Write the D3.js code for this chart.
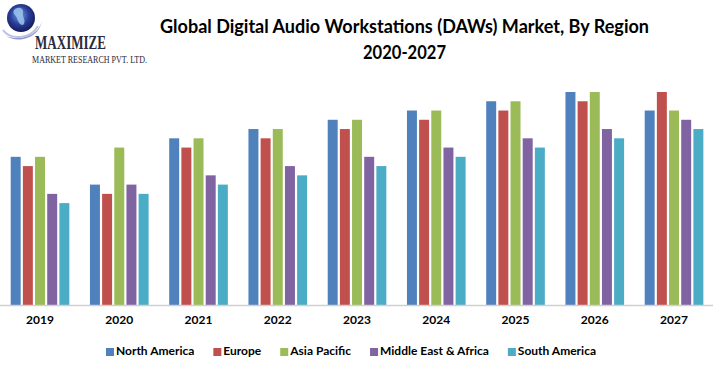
<!DOCTYPE html>
<html><head><meta charset="utf-8">
<script src="https://cdn.jsdelivr.net/npm/d3@7"></script>
<style>
html,body{margin:0;padding:0;background:#fff;}
svg{display:block;}
</style></head>
<body>
<script>
const years = ["2019","2020","2021","2022","2023","2024","2025","2026","2027"];
const seriesNames = ["North America","Europe","Asia Pacific","Middle East & Africa","South America"];
const northAmerica = [16,13,18,19,20,21,22,23,21];
const europe       = [15,12,17,18,19,20,21,22,23];
const asiaPacific  = [16,17,18,19,20,21,22,23,21];
const middleEast   = [12,13,14,15,16,17,18,19,20];
const southAmerica = [11,12,13,14,15,16,17,18,19];
const colors = ["#4F81BD","#C0504D","#9BBB59","#8064A2","#4BACC6"];
const titleLines = ["Global Digital Audio Workstations (DAWs) Market, By Region","2020-2027"];

const values = [northAmerica, europe, asiaPacific, middleEast, southAmerica];
const W = 720, H = 369;
const svg = d3.select("body").append("svg").attr("width", W).attr("height", H);

// logo
const logo = svg.append("g");
const defs = svg.append("defs");
const rg = defs.append("radialGradient").attr("id","globe").attr("cx","45%").attr("cy","40%").attr("r","60%");
rg.append("stop").attr("offset","0%").attr("stop-color","#6fa0e0");
rg.append("stop").attr("offset","55%").attr("stop-color","#2a3f9a");
rg.append("stop").attr("offset","100%").attr("stop-color","#141c5a");
logo.append("path").attr("d","M6,36 C18,44 40,38 42,20 C40,34 22,42 6,36 Z").attr("fill","#7a78c0").attr("opacity",0.8);
logo.append("circle").attr("cx",21).attr("cy",18).attr("r",14).attr("fill","url(#globe)");
logo.append("path").attr("d","M14,10 C18,6 24,8 23,13 C22,17 26,19 24,24 C21,27 18,22 17,18 C16,15 12,14 14,10 Z").attr("fill","#9cc4ee").attr("opacity",0.85);
logo.append("path").attr("d","M3,30 C10,40 30,40 38,26").attr("fill","none").attr("stroke","#b9c3e6").attr("stroke-width",2);
logo.append("text").attr("x",35).attr("y",49).attr("textLength",71).attr("lengthAdjust","spacingAndGlyphs")
  .attr("font-family","Liberation Serif, serif").attr("font-weight","bold").attr("font-size",18).attr("fill","#2b2b3a").text("MAXIMIZE");
logo.append("text").attr("x",32).attr("y",62.5).attr("textLength",115).attr("lengthAdjust","spacingAndGlyphs")
  .attr("font-family","Liberation Serif, serif").attr("font-size",10).attr("fill","#2b2b3a").text("MARKET RESEARCH PVT. LTD.");

// title
svg.append("text").attr("x",404.5).attr("y",33).attr("text-anchor","middle")
  .attr("textLength",489).attr("lengthAdjust","spacingAndGlyphs")
  .attr("font-family","Lato, sans-serif").attr("font-weight","bold").attr("font-size",18.5).attr("fill","#000")
  .text(titleLines[0]);
svg.append("text").attr("x",404.5).attr("y",59).attr("text-anchor","middle")
  .attr("textLength",83).attr("lengthAdjust","spacingAndGlyphs")
  .attr("font-family","Lato, sans-serif").attr("font-weight","bold").attr("font-size",18.5).attr("fill","#000")
  .text(titleLines[1]);

// scales
const baseY = 305;
const x0 = d3.scaleBand().domain(years).range([0.4, 713.65]).paddingInner(0.26).paddingOuter(0.13);
const x1 = d3.scaleBand().domain(seriesNames).range([0, x0.bandwidth()]).paddingInner(0.18);
const y = d3.scaleLinear().domain([0, 23]).range([baseY, 92]);

const groups = svg.append("g").selectAll("g").data(years).join("g")
  .attr("transform", d => `translate(${x0(d)},0)`);
groups.selectAll("rect").data((yr, i) => seriesNames.map((s, k) => ({s, k, v: values[k][i]})))
  .join("rect")
  .attr("x", d => x1(d.s)).attr("width", x1.bandwidth())
  .attr("y", d => y(d.v)).attr("height", d => baseY - y(d.v))
  .attr("fill", d => colors[d.k]);

// x axis
const xAxis = svg.append("g").attr("transform", `translate(0,${baseY})`)
  .call(d3.axisBottom(x0).tickSize(0).tickPadding(10));
xAxis.select(".domain").attr("stroke","#d0d0d0").attr("stroke-width",1.5).attr("d","M0,0.5H713");
xAxis.selectAll("text").attr("font-family","Lato, sans-serif").attr("font-weight","bold")
  .attr("font-size",12).attr("fill","#000");

// legend
const leg = svg.append("g");
const items = leg.selectAll("g").data(seriesNames).join("g");
items.append("rect").attr("width",8).attr("height",8).attr("y",-7).attr("fill",(d,i)=>colors[i]);
items.append("text").attr("x",10).attr("y",0).attr("font-family","Lato, sans-serif").attr("font-weight","bold")
  .attr("font-size",12).attr("fill","#000").text(d=>d);
const widths = [];
items.each(function(){ const w = 10 + this.querySelector("text").getComputedTextLength(); widths.push(w); });
const gap = 19;
const total = d3.sum(widths) + gap*(widths.length-1);
let start = 351 - total/2;
items.attr("transform",(d,i)=>{ const t = `translate(${start},355)`; start += widths[i] + gap; return t; });
</script>
</body></html>
